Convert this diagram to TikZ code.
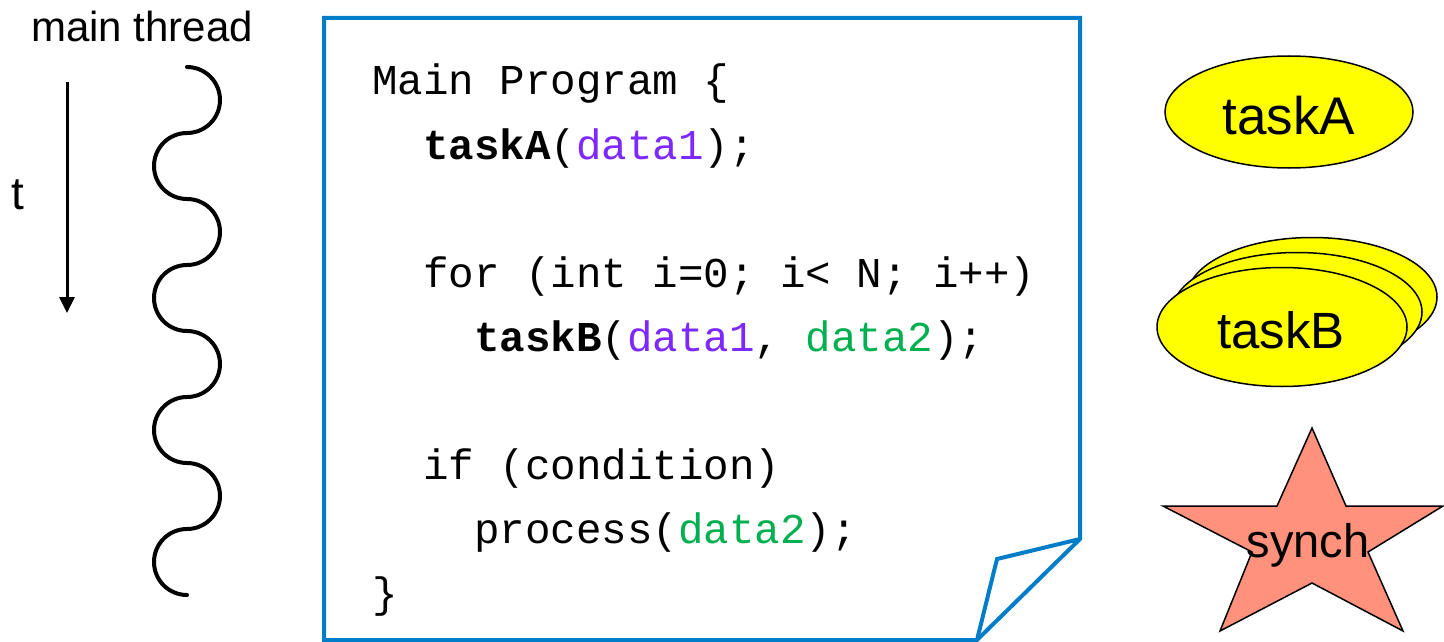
\documentclass[tikz,border=0pt]{standalone}
\usepackage{fontspec}
\setmainfont{Liberation Sans}
\newfontfamily\codefont{Liberation Mono}
\usetikzlibrary{shapes.geometric,arrows.meta}
\definecolor{pageblue}{RGB}{0,125,200}
\definecolor{dataone}{RGB}{125,40,255}
\definecolor{datatwo}{RGB}{0,176,80}
\definecolor{starfill}{RGB}{255,145,125}
\definecolor{taskyellow}{RGB}{255,255,0}
\tikzset{
  codeline/.style={anchor=base west,inner sep=0pt,font=\codefont\fontsize{42.5}{42.5}\selectfont},
  labeltext/.style={anchor=base,inner sep=0pt,font=\fontsize{42}{42}\selectfont},
  taskshape/.style={ellipse,draw=black,line width=1.5pt,fill=taskyellow,inner sep=0pt},
  tasktext/.style={anchor=base,inner sep=0pt},
  pageline/.style={draw=pageblue,line width=4pt,line join=miter},
}
\newcommand{\dA}{\textcolor{dataone}{data1}}
\newcommand{\dB}{\textcolor{datatwo}{data2}}
\begin{document}
\begin{tikzpicture}[x=1pt,y=-1pt]
\useasboundingbox (0,0) rectangle (1444,642);
% left: main thread label, time arrow, wave
\node[labeltext] (mt) at (142,42) {main thread};
\node[labeltext,font=\fontsize{46}{46}\selectfont] (tl) at (18,209) {t};
\coordinate (ta) at (67,82);
\coordinate (tb) at (67,313);
\draw[line width=3pt,-{Triangle[length=16pt,width=15pt]}] (ta) -- (tb);
\coordinate (w0) at (187,67);
\draw[line width=4pt,line cap=round] (w0)
  \foreach \i in {1,...,4}{
    arc[start angle=-90,end angle=90,radius=33]
    arc[start angle=-90,end angle=-270,radius=33]
  };
% page
\draw[pageline,fill=white] (324,18) -- (1080,18) -- (1080,539) -- (977,640) -- (324,640) -- cycle;
\draw[pageline] (977,640) -- (997,559) -- (1080,539);
% code
\node[codeline] (l1) at (372,95) {Main Program \{};
\node[codeline] (l2) at (423,159) {\textbf{taskA}(\dA);};
\node[codeline] (l3) at (423,287) {for (int i=0; i< N; i++)};
\node[codeline] (l4) at (474,351) {\textbf{taskB}(\dA, \dB);};
\node[codeline] (l5) at (423,479) {if (condition)};
\node[codeline] (l6) at (474,543) {process(\dB);};
\node[codeline] (l7) at (372,607) {\}};
% taskA
\node[taskshape,minimum width=248pt,minimum height=112pt] (ea) at (1289,112) {};
\node[tasktext,font=\fontsize{53}{53}\selectfont] (tat) at (1289,134) {taskA};
% taskB stack
\node[taskshape,minimum width=250pt,minimum height=119pt] (eb3) at (1312,297) {};
\node[taskshape,minimum width=250pt,minimum height=119pt] (eb2) at (1297,312) {};
\node[taskshape,minimum width=250pt,minimum height=119pt] (eb1) at (1282,327) {};
\node[tasktext,font=\fontsize{51}{51}\selectfont] (tbt) at (1281,348) {taskB};
% star
\draw[line width=1.5pt,fill=starfill,line join=miter] (1312,428) -- (1346,506) -- (1443,506) -- (1368,552) -- (1403,631) -- (1312,583) -- (1220,631) -- (1252,552) -- (1163,506) -- (1277,506) -- cycle;
\node[tasktext,font=\fontsize{47}{47}\selectfont] (sy) at (1308,557) {synch};
\end{tikzpicture}
\end{document}
